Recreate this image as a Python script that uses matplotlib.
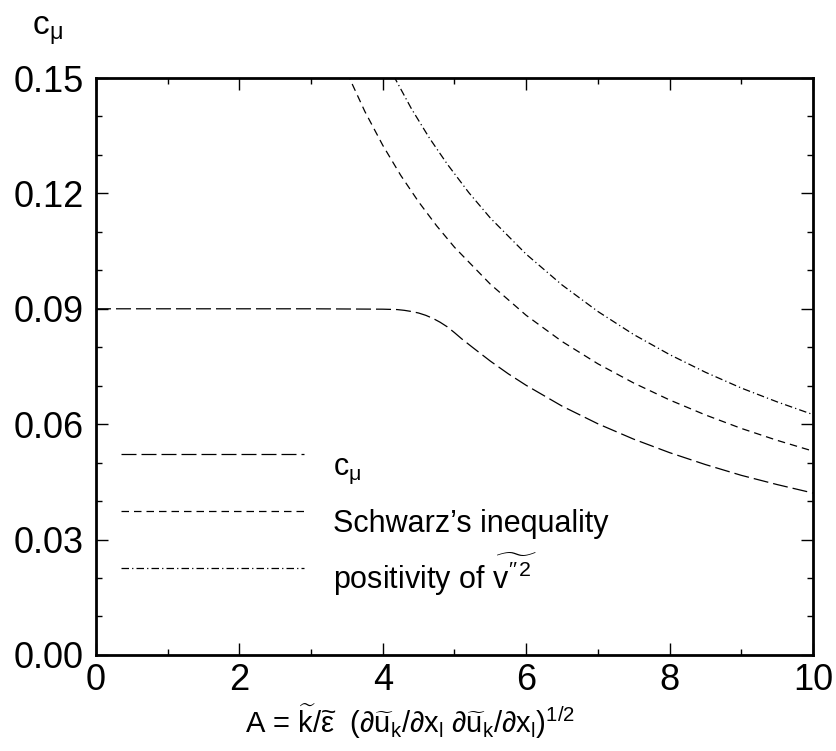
import matplotlib
matplotlib.use("Agg")
import matplotlib.pyplot as plt
from matplotlib.ticker import MultipleLocator, FormatStrFormatter

plt.rcParams['font.family'] = ['Liberation Sans', 'DejaVu Sans']
plt.rcParams['mathtext.fontset'] = 'custom'
plt.rcParams['mathtext.rm'] = 'Liberation Sans'
plt.rcParams['mathtext.it'] = 'Liberation Sans'
plt.rcParams['mathtext.bf'] = 'Liberation Sans:bold'

# c_mu curve
a_cmu = [0, 1, 2, 3, 4, 4.2, 4.3, 4.4, 4.5, 4.6, 4.7, 4.8, 4.9, 5.0, 5.1, 5.25,
         5.5, 5.75, 6, 6.5, 7, 7.5, 8, 8.5, 9, 9.5, 10]
c_mu = [0.09, 0.09, 0.09, 0.09, 0.0899, 0.0898, 0.0896, 0.0893, 0.0889, 0.0883,
        0.0875, 0.0865, 0.0853, 0.0838, 0.0822, 0.0800, 0.0764, 0.0731, 0.0701,
        0.0647, 0.0601, 0.0561, 0.0526, 0.0495, 0.0467, 0.0443, 0.0421]

# Schwarz's inequality bound
a_schw = [3.5, 3.75, 4, 4.25, 4.5, 4.75, 5, 5.5, 6, 6.5, 7, 7.5, 8, 8.5, 9, 9.5, 10]
c_schw = [0.1514, 0.1413, 0.1325, 0.1247, 0.1178, 0.1116, 0.1060, 0.0964, 0.0883,
          0.0815, 0.0757, 0.0707, 0.0663, 0.0624, 0.0589, 0.0558, 0.0530]

# positivity bound
a_pos = [4.15, 4.4, 4.65, 4.9, 5.2, 5.5, 6, 6.5, 7, 7.5, 8, 8.5, 9, 9.5, 10]
c_pos = [0.1506, 0.1420, 0.1344, 0.1276, 0.1202, 0.1136, 0.1042, 0.0962, 0.0893,
         0.0833, 0.0781, 0.0735, 0.0694, 0.0658, 0.0625]

# hand-made legend: line heights and labels
leg_y = [0.0523, 0.0375, 0.0227]
leg_labels = [r'c$_{\mu}$', u'Schwarz\u2019s inequality',
              r"positivity of $\widetilde{v''^{2}}$"]
styles = [(12, 4), (6, 4), (6, 2.5, 1, 2.5)]

fig = plt.figure(figsize=(8.37, 7.51), dpi=100)
ax = fig.add_axes([0.1147, 0.1279, 0.8566, 0.7682])

lw = 0.9
ax.plot(a_cmu, c_mu, color='black', lw=lw, dashes=styles[0])
ax.plot(a_schw, c_schw, color='black', lw=lw, dashes=styles[1])
ax.plot(a_pos, c_pos, color='black', lw=lw, dashes=styles[2])

for y, lab, d in zip(leg_y, leg_labels, styles):
    ax.plot([0.35, 2.9], [y, y], color='black', lw=lw, dashes=d)
    ax.text(3.3, y - 0.0056, lab, fontsize=22, va='baseline')

ax.set_xlim(0, 10)
ax.set_ylim(0, 0.15)
ax.xaxis.set_major_locator(MultipleLocator(2))
ax.xaxis.set_minor_locator(MultipleLocator(1))
ax.yaxis.set_major_locator(MultipleLocator(0.03))
ax.yaxis.set_minor_locator(MultipleLocator(0.01))
ax.yaxis.set_major_formatter(FormatStrFormatter('%.2f'))
ax.tick_params(which='both', direction='in', top=True, right=True, labelsize=26)
ax.tick_params(which='major', length=8.5, width=1)
ax.tick_params(which='minor', length=4.3, width=1)
ax.tick_params(axis='y', pad=9)
ax.tick_params(axis='x', pad=6)
for s in ax.spines.values():
    s.set_linewidth(2)

ax.set_xlabel(r'A = $\widetilde{k}/\widetilde{\varepsilon}$  ($\partial\widetilde{u}_k/\partial x_l\ \partial\widetilde{u}_k/\partial x_l$)$^{1/2}$',
              fontsize=21)
ax.xaxis.label.set_va('baseline')
ax.xaxis.set_label_coords(0.438, -0.135)
fig.text(0.038, 0.958, r'c$_{\mu}$', fontsize=24, va='center')

fig.savefig('out.png', dpi=100)
